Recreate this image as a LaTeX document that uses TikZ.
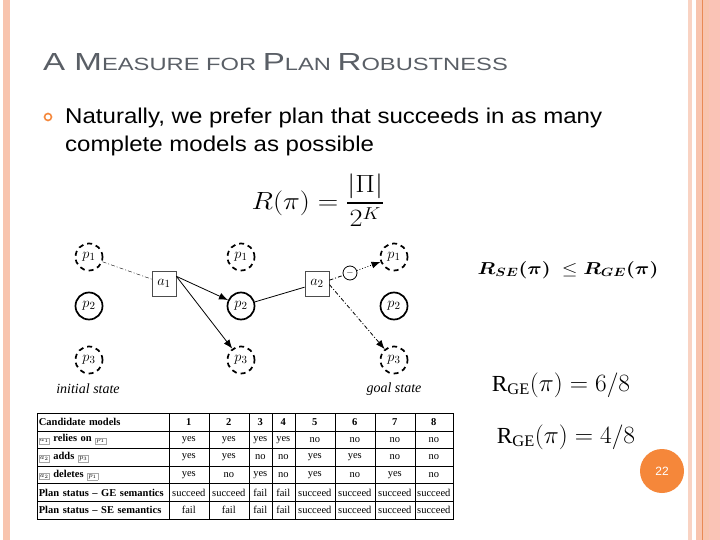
\documentclass[tikz,border=0pt]{standalone}
\usepackage{amsmath}
\usepackage{amssymb}
\usepackage{graphicx}
\usepackage{fontspec}
\setmainfont{Liberation Sans}
\newfontfamily\tabfont[Ligatures=TeX]{Liberation Serif}
\usetikzlibrary{%
  arrows.meta,
  positioning,matrix,
  calc
}
\definecolor{titlegray}{HTML}{5A5F66}
\definecolor{accent}{HTML}{F5873A}
\definecolor{stripeA}{HTML}{F9D3C3}
\definecolor{stripeB}{HTML}{F8C4AE}
\definecolor{stripeC}{HTML}{FAC3B6}
\definecolor{stripeline}{HTML}{E98A55}
\newcommand\tbig{\fontsize{24.7}{28}\selectfont}
\newcommand\tsml{\fontsize{17.7}{20}\selectfont}
\newcommand\wide[2]{\scalebox{#1}[1]{#2}}
\newcommand\tagbox[1]{{\setlength\fboxsep{1pt}\setlength\fboxrule{0.4pt}\fcolorbox{black!35}{white}{\scriptsize$#1$}}}

\begin{document}
\begin{tikzpicture}[x=1pt,y=-1pt,
  prop/.style={circle,draw,line width=1.7pt,minimum size=27pt,inner sep=0pt,font=\fontsize{15}{15}\selectfont},
  unk/.style={prop,dash pattern=on 5pt off 4pt},
  act/.style={draw=black!70,line width=0.8pt,minimum width=24pt,minimum height=25pt,inner sep=0pt,font=\fontsize{15}{15}\selectfont},
  dashdot/.style={dash pattern=on 4pt off 2pt on 1pt off 2pt},
  tip/.style={-{Latex[length=9pt,width=7pt]}},
  body/.style={anchor=base west,inner sep=0pt,font=\fontsize{21.4}{24}\selectfont}
]
  \useasboundingbox (0,0) rectangle (720,540);
  \fill[white] (0,0) rectangle (720,540);
  % slide frame
  \fill[stripeB] (3,0) rectangle (10,540);
  \fill[stripeA] (688,0) rectangle (692,540);
  \fill[stripeB] (696,0) rectangle (720,540);
  \fill[stripeC] (709,0) rectangle (720,540);
  \draw[stripeline,line width=1.2pt] (702.5,0) -- (702.5,540);

  \node[anchor=base west,text=titlegray,inner sep=0pt] (title) at (43,71)
    {\wide{1.34}{{\tbig A M}{\tsml EASURE FOR }{\tbig P}{\tsml LAN }{\tbig R}{\tsml OBUSTNESS}}};
  \node[circle,draw=accent,line width=1.6pt,minimum size=7pt,inner sep=0pt] (bul) at (48,117) {};
  \node[body] (line1) at (65,124) {\wide{1.124}{Naturally, we prefer plan that succeeds in as many}};
  \node[body] (line2) at (65,152) {\wide{1.124}{complete models as possible}};

  \node[font=\fontsize{25.5}{26}\selectfont] (rdef) at (318,200) {\wide{1.14}{$R(\pi) = \dfrac{|\Pi|}{2^K}$}};

  % plan
  \node[unk]  (p1i) at (89,257) {$p_1$};
  \node[prop] (p2i) at (89,306) {$p_2$};
  \node[unk]  (p3i) at (89,360) {$p_3$};
  \node[unk]  (p1m) at (241,257) {$p_1$};
  \node[prop] (p2m) at (241,306) {$p_2$};
  \node[unk]  (p3m) at (241,360) {$p_3$};
  \node[unk]  (p1g) at (394,257) {$p_1$};
  \node[prop] (p2g) at (394,306) {$p_2$};
  \node[unk]  (p3g) at (394,360) {$p_3$};
  \node[act] (a1) at (164,283.5) {$a_1$};
  \node[act] (a2) at (317,283.5) {$a_2$};
  \node[circle,draw,line width=0.8pt,minimum size=14pt,inner sep=0pt,font=\small] (del) at (350,273) {$-$};

  \draw[dashdot] (p1i) -- (a1);
  \draw[tip,line width=0.8pt] (a1.30) -- (p2m);
  \draw[tip,line width=0.8pt] (a1.30) -- (p3m);
  \draw[line width=0.8pt] (p2m) -- (a2);
  \draw[dashdot,line width=0.8pt] (a2.15) -- (del);
  \draw[dotted,tip,line width=0.8pt] (del) -- (p1g);
  \draw[dashdot,tip,line width=0.8pt] (a2.-5) -- (p3g);

  \node[font=\tabfont\itshape\fontsize{14}{14}\selectfont] (init) at (88,389) {initial state};
  \node[font=\tabfont\itshape\fontsize{14}{14}\selectfont] (goal) at (394,389) {goal state};

  \node[font=\fontsize{18.5}{19}\selectfont] (cmp) at (568,270)
    {\wide{1.17}{$\boldsymbol{R_{SE}(\pi)}\;\le\boldsymbol{R_{GE}(\pi)}$}};
  \node[font=\fontsize{23}{23}\selectfont] (rge) at (561,385)
    {\wide{1.02}{$\text{\tabfont R}_{\text{\tabfont GE}}(\pi) = 6/8$}};
  \node[font=\fontsize{23}{23}\selectfont] (rse) at (566,437)
    {\wide{1.02}{$\text{\tabfont R}_{\text{\tabfont GE}}(\pi) = 4/8$}};

  % candidate models
  \matrix (tbl) [matrix of nodes,anchor=north west,
    nodes={draw,line width=0.6pt,minimum height=17.6pt,inner sep=1pt,anchor=center,
      font=\tabfont\fontsize{10.5}{11}\selectfont},
    column sep=-0.6pt,row sep=-0.6pt,
    column 1/.style={nodes={text width=128pt,inner xsep=2pt,align=left,font=\tabfont\bfseries\fontsize{10.5}{11}\selectfont}},
    column 2/.style={nodes={minimum width=40pt}},
    column 3/.style={nodes={minimum width=40pt}},
    column 4/.style={nodes={minimum width=23pt}},
    column 5/.style={nodes={minimum width=23pt}},
    column 6/.style={nodes={minimum width=40pt}},
    column 7/.style={nodes={minimum width=40pt}},
    column 8/.style={nodes={minimum width=40pt}},
    column 9/.style={nodes={minimum width=38pt}},
    row 1/.style={nodes={font=\tabfont\bfseries\fontsize{10.5}{11}\selectfont}}
  ] at (33,409.5) {
    Candidate models & 1 & 2 & 3 & 4 & 5 & 6 & 7 & 8 \\
    \tagbox{a_1} relies on \tagbox{p_1} & yes & yes & yes & yes & no & no & no & no \\
    \tagbox{a_2} adds \tagbox{p_3} & yes & yes & no & no & yes & yes & no & no \\
    \tagbox{a_2} deletes \tagbox{p_1} & yes & no & yes & no & yes & no & yes & no \\
    Plan status -- GE semantics & succeed & succeed & fail & fail & succeed & succeed & succeed & succeed \\
    Plan status -- SE semantics & fail & fail & fail & fail & succeed & succeed & succeed & succeed \\
  };

  \node[circle,fill=accent,minimum size=44pt,inner sep=0pt,text=white,font=\fontsize{12}{12}\selectfont] (pgnum) at (662,471) {22};
\end{tikzpicture}
\end{document}
